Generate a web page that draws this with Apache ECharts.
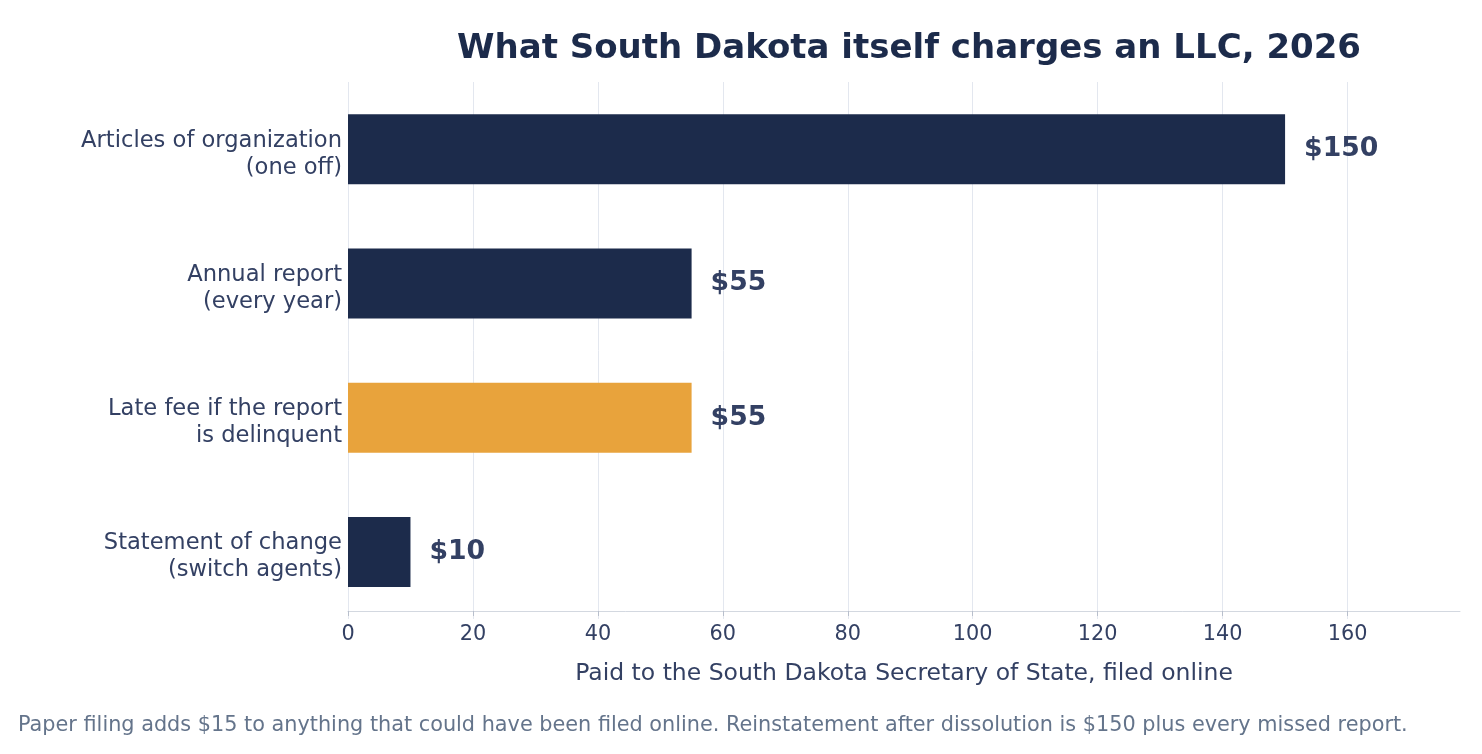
<!DOCTYPE html>
<html>
<head>
<meta charset="utf-8">
<script src="https://cdn.jsdelivr.net/npm/echarts@6/dist/echarts.min.js"></script>
<style>
  html, body { margin: 0; padding: 0; background: #fff; }
  #chart { width: 1482px; height: 754px; }
</style>
</head>
<body>
<div id="chart"></div>
<script>
// fees, top to bottom as in the picture
const categories = [
  'Articles of organization\n(one off)',
  'Annual report\n(every year)',
  'Late fee if the report\nis delinquent',
  'Statement of change\n(switch agents)'
];
const fees = [150, 55, 55, 10];
const highlight = [false, false, true, false]; // the late fee is drawn orange
const xTicks = [0, 20, 40, 60, 80, 100, 120, 140, 160];

const NAVY = '#1c2b4b';
const ORANGE = '#e8a33c';
const TEXT = '#334063';
const FONT = 'DejaVu Sans';

const chart = echarts.init(document.getElementById('chart'));

const option = {
  backgroundColor: '#fff',
  textStyle: { fontFamily: FONT },
  title: {
    text: 'What South Dakota itself charges an LLC, 2026',
    left: 904,
    top: 27,
    textAlign: 'center',
    textStyle: { fontFamily: FONT, fontSize: 34, fontWeight: 'bold', color: NAVY }
  },
  grid: { left: 348, right: 22, top: 82, bottom: 135, containLabel: false },
  xAxis: {
    type: 'value',
    min: 0,
    max: 178,
    interval: 20,
    offset: -8,
    axisLine: { show: true, lineStyle: { color: '#d3d8e0', width: 1 } },
    axisTick: { show: true, length: 5, customValues: xTicks, lineStyle: { color: '#b8bfcc' } },
    axisLabel: {
      fontFamily: FONT, fontSize: 20.8, color: TEXT, margin: 13,
      customValues: xTicks
    },
    splitLine: { show: true, lineStyle: { color: '#e3e7ef', width: 1 } },
    name: 'Paid to the South Dakota Secretary of State, filed online',
    nameLocation: 'middle',
    nameGap: 51,
    nameTextStyle: { fontFamily: FONT, fontSize: 23.5, color: TEXT }
  },
  yAxis: {
    type: 'category',
    inverse: true,
    data: categories,
    axisLine: { show: false },
    axisTick: { show: false },
    axisLabel: {
      fontFamily: FONT, fontSize: 22.6, lineHeight: 27, color: TEXT,
      margin: 6, align: 'right',
      // an empty short first line nudges the two text lines down a little
      formatter: v => '{s| }\n' + v,
      rich: { s: { fontSize: 1, lineHeight: 10 } }
    }
  },
  series: [{
    type: 'bar',
    barWidth: 70,
    data: fees.map((v, i) => ({
      value: v,
      itemStyle: { color: highlight[i] ? ORANGE : NAVY }
    })),
    label: {
      show: true,
      position: 'right',
      distance: 19,
      formatter: p => '$' + p.value,
      fontFamily: FONT,
      fontSize: 26.7,
      fontWeight: 'bold',
      color: TEXT
    },
    z: 3
  }],
  graphic: [{
    type: 'text',
    left: 18,
    top: 715,
    style: {
      text: 'Paper filing adds $15 to anything that could have been filed online. Reinstatement after dissolution is $150 plus every missed report.',
      fontFamily: FONT,
      fontSize: 20.8,
      fill: '#64748b'
    }
  }],
  animation: false
};

chart.setOption(option);
</script>
</body>
</html>
